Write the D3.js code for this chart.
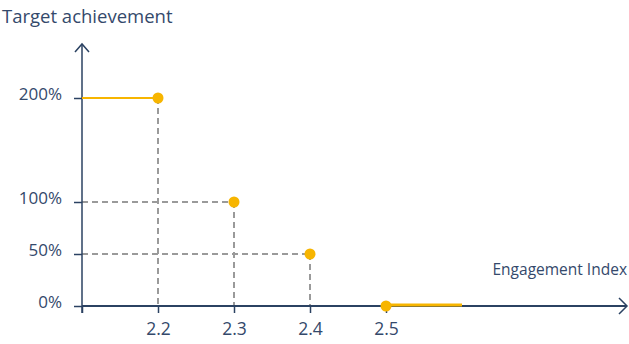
<!DOCTYPE html>
<html>
<head>
<meta charset="utf-8">
<script src="https://cdn.jsdelivr.net/npm/d3@7"></script>
<style>
  html, body { margin: 0; padding: 0; background: #fff; }
  svg { display: block; font-family: "Open Sans", sans-serif; }
</style>
</head>
<body>
<svg id="chart" width="629" height="344"></svg>
<script>
const indexValues = [2.2, 2.3, 2.4, 2.5];
const achievement = [200, 100, 50, 0];
const xTickLabels = ["2.2", "2.3", "2.4", "2.5"];
const yTickValues = [0, 50, 100, 200];
const yTickLabels = ["0%", "50%", "100%", "200%"];
const leftStep = [2.1, 2.2];   // 200% plateau before first point
const rightStep = [2.5, 2.6];  // 0% plateau after last point

const navy = "#2b4262";
const textCol = "#34496b";
const yellow = "#f7b500";
const grey = "#9a9a9a";
const font = "'Open Sans', sans-serif";

const svg = d3.select("#chart");

const x = d3.scaleLinear().domain([2.1, 2.8]).range([82, 614]);
const y = d3.scaleLinear().domain([0, 200]).range([306, 98]);

// dashed guide lines
const guides = svg.append("g")
  .attr("stroke", grey)
  .attr("stroke-width", 2)
  .attr("stroke-dasharray", "6,4")
  .attr("fill", "none");

indexValues.forEach((v, i) => {
  if (achievement[i] > 0) {
    guides.append("line")
      .attr("x1", x(v)).attr("x2", x(v))
      .attr("y1", y(achievement[i])).attr("y2", y(0));
    if (i > 0) {
      guides.append("line")
        .attr("x1", x(2.1)).attr("x2", x(v))
        .attr("y1", y(achievement[i])).attr("y2", y(achievement[i]));
    }
  }
});

// y axis
const yAxis = d3.axisLeft(y)
  .tickValues(yTickValues)
  .tickFormat((d, i) => yTickLabels[i])
  .tickSize(8)
  .tickPadding(12);
const gy = svg.append("g").attr("transform", `translate(${x(2.1)},0)`).call(yAxis);
gy.select(".domain").remove();
gy.selectAll(".tick line").attr("stroke", navy).attr("stroke-width", 1.5);
gy.selectAll(".tick text").attr("fill", textCol).attr("font-size", 17)
  .attr("font-family", font).attr("dy", "0.06em");

// x axis
const xAxis = d3.axisBottom(x)
  .tickValues([2.1].concat(indexValues))
  .tickFormat((d, i) => i === 0 ? "" : xTickLabels[i - 1])
  .tickSize(7)
  .tickPadding(10);
const gx = svg.append("g").attr("transform", `translate(0,${y(0)})`).call(xAxis);
gx.select(".domain").remove();
gx.selectAll(".tick line").attr("stroke", navy).attr("stroke-width", 1.5);
gx.selectAll(".tick text").attr("fill", textCol).attr("font-size", 17.5)
  .attr("font-family", font);

// axis lines with arrow heads
svg.append("line")
  .attr("x1", x(2.1)).attr("x2", x(2.1))
  .attr("y1", y(0) + 7).attr("y2", 44)
  .attr("stroke", navy).attr("stroke-width", 1.5);
svg.append("path")
  .attr("d", `M${x(2.1) - 7},${52} L${x(2.1)},${44} L${x(2.1) + 7},${52}`)
  .attr("fill", "none").attr("stroke", navy).attr("stroke-width", 1.5);

svg.append("line")
  .attr("x1", x(2.1)).attr("x2", 627)
  .attr("y1", y(0)).attr("y2", y(0))
  .attr("stroke", navy).attr("stroke-width", 2);
svg.append("path")
  .attr("d", `M${619},${y(0) - 8} L${627},${y(0)} L${619},${y(0) + 8}`)
  .attr("fill", "none").attr("stroke", navy).attr("stroke-width", 1.5);

// yellow plateaus
svg.append("line")
  .attr("x1", x(leftStep[0])).attr("x2", x(leftStep[1]))
  .attr("y1", y(achievement[0])).attr("y2", y(achievement[0]))
  .attr("stroke", yellow).attr("stroke-width", 2);
svg.append("line")
  .attr("x1", x(rightStep[0])).attr("x2", x(rightStep[1]))
  .attr("y1", y(0) - 1).attr("y2", y(0) - 1)
  .attr("stroke", yellow).attr("stroke-width", 3);

// points
svg.append("g").selectAll("circle")
  .data(indexValues)
  .join("circle")
  .attr("cx", d => x(d))
  .attr("cy", (d, i) => y(achievement[i]))
  .attr("r", 5.5)
  .attr("fill", yellow);

// axis titles
svg.append("text")
  .attr("x", 2).attr("y", 23)
  .attr("fill", textCol).attr("font-size", 18.5)
  .attr("font-family", font)
  .text("Target achievement");
svg.append("text")
  .attr("x", 627).attr("y", 275)
  .attr("text-anchor", "end")
  .attr("fill", textCol).attr("font-size", 15.5)
  .attr("font-family", font)
  .text("Engagement Index");
</script>
</body>
</html>
